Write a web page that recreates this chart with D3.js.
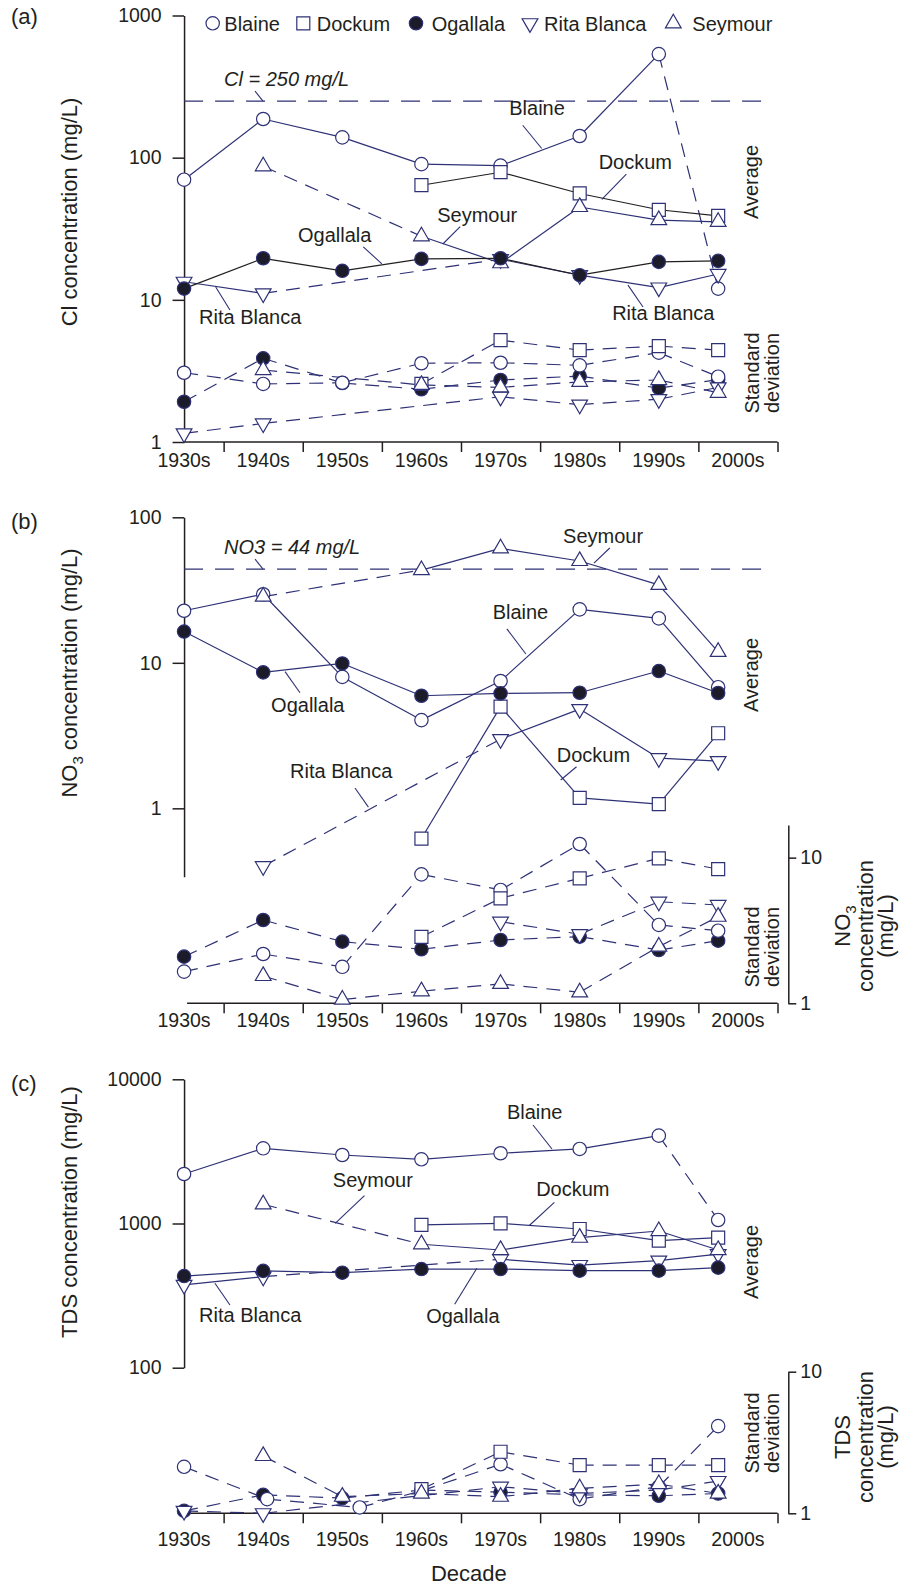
<!DOCTYPE html>
<html>
<head>
<meta charset="utf-8">
<script src="https://cdn.jsdelivr.net/npm/d3@7"></script>
<style>
  body { margin: 0; background: #fff; }
  svg { display: block; }
  text { font-family: "Liberation Sans", Arial, Helvetica, sans-serif; fill: #231f20; }
</style>
</head>
<body>
<svg id="chart" width="902" height="1589"></svg>
<script>
// ---- categories ----
const decades = ["1930s", "1940s", "1950s", "1960s", "1970s", "1980s", "1990s", "2000s"];
const decadeYears = [1935, 1945, 1955, 1965, 1975, 1985, 1995, 2002.5];
const decadeLabelYears = [1935, 1945, 1955, 1965, 1975, 1985, 1995, 2005];
const boundaryYears = [1940, 1950, 1960, 1970, 1980, 1990, 2000, 2010];
const aquifers = ["Blaine", "Dockum", "Ogallala", "Rita Blanca", "Seymour"];

// ---- (a) chloride, mg/L ----
const clAvgBlaine     = [70, 187, 139, 90, 88, 142, 535, 12];
const clAvgDockum     = [null, null, null, 64, 79, 56, 43, 39];
const clAvgOgallala   = [12, 19.6, 16, 19.4, 19.6, 14.9, 18.5, 18.8];
const clAvgRitaBlanca = [13.4, 11.1, null, null, 19.3, 14.9, 12.2, 15.2];
const clAvgSeymour    = [null, 87, null, 28, 18.1, 45, 36.4, 35.4];
const clStdBlaine     = [3.07, 2.56, 2.61, 3.58, 3.61, 3.46, 4.25, 2.88];
const clStdDockum     = [null, null, null, 2.56, 5.21, 4.43, 4.73, 4.43];
const clStdOgallala   = [1.92, 3.88, 2.6, 2.35, 2.73, 2.91, 2.39, 2.75];
const clStdRitaBlanca = [1.15, 1.35, null, null, 2.08, 1.83, 2.0, 2.42];
const clStdSeymour    = [null, 3.21, null, 2.52, 2.42, 2.65, 2.73, 2.22];
const clTicks = [1, 10, 100, 1000];
const clLimit = 250;

// ---- (b) nitrate, mg/L ----
const no3AvgBlaine     = [22.8, 29.6, 8.0, 4.04, 7.5, 23.3, 20.2, 6.8];
const no3AvgDockum     = [null, null, null, 0.62, 5.0, 1.18, 1.07, 3.28];
const no3AvgOgallala   = [16.4, 8.6, 9.9, 5.94, 6.17, 6.23, 8.78, 6.2];
const no3AvgRitaBlanca = [null, 0.40, null, null, 2.99, 4.81, 2.21, 2.11];
const no3AvgSeymour    = [null, 28.5, null, 43.4, 61.2, 50.1, 34.3, 11.9];
const no3StdBlaine     = [1.65, 2.18, 1.78, 7.68, 6.0, 12.4, 3.45, 3.15];
const no3StdDockum     = [null, null, null, 2.86, 5.26, 7.21, 9.89, 8.35];
const no3StdOgallala   = [2.09, 3.73, 2.65, 2.35, 2.72, 2.87, 2.32, 2.69];
const no3StdRitaBlanca = [null, null, null, null, 3.63, 2.98, 4.98, 4.73];
const no3StdSeymour    = [null, 1.54, 1.06, 1.21, 1.36, 1.19, 2.45, 3.93];
const no3Ticks = [1, 10, 100];
const no3StdTicks = [1, 10];
const no3Limit = 44;

// ---- (c) total dissolved solids, mg/L ----
const tdsAvgBlaine     = [2205, 3322, 2985, 2788, 3069, 3288, 4066, 1058];
const tdsAvgDockum     = [null, null, null, 977, 1003, 916, 760, 797];
const tdsAvgOgallala   = [432, 469, 456, 483, 483, 471, 471, 494];
const tdsAvgRitaBlanca = [375, 428, null, null, 565, 515, 552, 614];
const tdsAvgSeymour    = [null, 1359, null, 718, 655, 797, 887, 655];
const tdsStdBlaine     = [2.13, 1.26, 1.10, 1.44, 2.22, 1.26, 1.54, 4.13];
const tdsStdBlaineYears = [1935, 1945.5, 1957.2, 1965, 1975, 1985, 1995, 2002.5];
const tdsStdDockum     = [null, null, null, 1.48, 2.72, 2.19, 2.19, 2.19];
const tdsStdOgallala   = [1.04, 1.35, 1.28, 1.46, 1.41, 1.35, 1.33, 1.38];
const tdsStdRitaBlanca = [1.04, 1.0, null, null, 1.54, 1.38, 1.46, 1.69];
const tdsStdSeymour    = [null, 2.54, 1.31, 1.38, 1.31, 1.5, 1.61, 1.38];
const tdsTicks = [100, 1000, 10000];
const tdsStdTicks = [1, 10];

// ---- styling ----
const navy = "#2e3175", ink = "#231f20", solidFill = "#1c1b29";
const svg = d3.select("#chart");
const x = d3.scaleLinear().domain([1930, 2010]).range([144.5, 777.5]);

const symbols = {
  "Blaine":      { type: d3.symbolCircle,   size: 141, fill: "#fff",    rotate: 0 },
  "Dockum":      { type: d3.symbolSquare,   size: 169, fill: "#fff",    rotate: 0 },
  "Ogallala":    { type: d3.symbolCircle,   size: 141, fill: solidFill, rotate: 0 },
  "Rita Blanca": { type: d3.symbolTriangle, size: 107, fill: "#fff",    rotate: 180 },
  "Seymour":     { type: d3.symbolTriangle, size: 107, fill: "#fff",    rotate: 0 }
};

function drawMarker(g, name, px, py) {
  const s = symbols[name];
  g.append("path")
    .attr("d", d3.symbol(s.type, s.size)())
    .attr("transform", `translate(${px},${py})` + (s.rotate ? ` rotate(${s.rotate})` : ""))
    .attr("fill", s.fill)
    .attr("stroke", navy)
    .attr("stroke-width", 1.2);
}

function styleAxis(sel, fontSize) {
  sel.attr("color", ink);
  sel.selectAll("path, line").attr("stroke-width", 1.5);
  sel.selectAll("text").attr("font-size", fontSize)
    .attr("font-family", '"Liberation Sans", Arial, sans-serif');
}

function rotatedText(g, str, bx, cy, size) {
  return g.append("text")
    .attr("transform", `translate(${bx},${cy}) rotate(-90)`)
    .attr("text-anchor", "middle")
    .attr("font-size", size)
    .text(str);
}

// ---- panels ----
const panels = [
  {
    tag: "(a)", tagY: 24,
    avg: { "Blaine": clAvgBlaine, "Dockum": clAvgDockum, "Ogallala": clAvgOgallala, "Rita Blanca": clAvgRitaBlanca, "Seymour": clAvgSeymour },
    std: { "Blaine": clStdBlaine, "Dockum": clStdDockum, "Ogallala": clStdOgallala, "Rita Blanca": clStdRitaBlanca, "Seymour": clStdSeymour },
    stdYears: {},
    yAvg: d3.scaleLog().domain([1, 1000]).range([442, 15.5]),
    yStd: null,
    leftTicks: clTicks, rightTicks: null,
    axisY: 442, labelDrop: 25, xStart: 0,
    limit: { value: clLimit, label: "Cl = 250 mg/L" },
    title: "Cl concentration (mg/L)", titleY: 212,
    averageY: 182, stdY: 373,
    darkLines: ["Dockum", "Ogallala"],
    dashedAvg: [["Blaine", "1990s"]],
    notes: [
      { text: "Blaine",      at: [1976.1, 199],  from: [1977.8, 169],  to: [1980.2, 116] },
      { text: "Dockum",      at: [1987.4, 82.8], from: [1990.9, 76.7], to: [1987.8, 50.9] },
      { text: "Seymour",     at: [1967.0, 35.4], from: [1969.9, 32.7], to: [1967.7, 24.7] },
      { text: "Ogallala",    at: [1949.4, 25.6], from: [1957.65, 23.6], to: [1960.0, 17.9] },
      { text: "Rita Blanca", at: [1936.9, 6.76], from: [1940.8, 8.48], to: [1939.0, 12.3] },
      { text: "Rita Blanca", at: [1989.1, 7.21], from: [1993.0, 8.9],  to: [1991.1, 12.7] }
    ]
  },
  {
    tag: "(b)", tagY: 529,
    avg: { "Blaine": no3AvgBlaine, "Dockum": no3AvgDockum, "Ogallala": no3AvgOgallala, "Rita Blanca": no3AvgRitaBlanca, "Seymour": no3AvgSeymour },
    std: { "Blaine": no3StdBlaine, "Dockum": no3StdDockum, "Ogallala": no3StdOgallala, "Rita Blanca": no3StdRitaBlanca, "Seymour": no3StdSeymour },
    stdYears: {},
    yAvg: d3.scaleLog().domain([0.339, 100]).range([876.7, 517.3]),
    yStd: d3.scaleLog().domain([1, 16.75]).range([1003.3, 825]),
    leftTicks: no3Ticks, rightTicks: no3StdTicks,
    axisY: 1003.3, labelDrop: 23.4, xStart: 3,
    limit: { value: no3Limit, label: "NO3 = 44 mg/L" },
    title: ["NO", "3", " concentration (mg/L)"], titleY: 673,
    rightTitle: ["NO", "3"], rightTitleY: 926,
    averageY: 675, stdY: 947,
    darkLines: [],
    dashedAvg: [],
    notes: [
      { text: "Seymour",     at: [1982.9, 66.9], from: [1988.8, 61.5],  to: [1986.8, 48.5] },
      { text: "Blaine",      at: [1974.0, 20.0], from: [1975.8, 17.1],  to: [1978.2, 11.5] },
      { text: "Ogallala",    at: [1946.0, 4.61], from: [1949.65, 6.23], to: [1947.76, 8.69] },
      { text: "Rita Blanca", at: [1948.4, 1.615], from: [1956.6, 1.379], to: [1958.3, 1.02] },
      { text: "Dockum",      at: [1982.1, 2.09], from: [1984.6, 1.93],  to: [1982.6, 1.565] }
    ]
  },
  {
    tag: "(c)", tagY: 1091,
    avg: { "Blaine": tdsAvgBlaine, "Dockum": tdsAvgDockum, "Ogallala": tdsAvgOgallala, "Rita Blanca": tdsAvgRitaBlanca, "Seymour": tdsAvgSeymour },
    std: { "Blaine": tdsStdBlaine, "Dockum": tdsStdDockum, "Ogallala": tdsStdOgallala, "Rita Blanca": tdsStdRitaBlanca, "Seymour": tdsStdSeymour },
    stdYears: { "Blaine": tdsStdBlaineYears },
    yAvg: d3.scaleLog().domain([100, 10000]).range([1367.7, 1079.3]),
    yStd: d3.scaleLog().domain([1, 10]).range([1513.3, 1371.7]),
    leftTicks: tdsTicks, rightTicks: tdsStdTicks,
    axisY: 1513.3, labelDrop: 32.7, xStart: 3,
    limit: null,
    title: "TDS concentration (mg/L)", titleY: 1212,
    rightTitle: ["TDS"], rightTitleY: 1437,
    averageY: 1262, stdY: 1433,
    darkLines: [],
    dashedAvg: [["Blaine", "1990s"]],
    notes: [
      { text: "Blaine",      at: [1975.8, 5305], from: [1979.1, 4821], to: [1981.5, 3286] },
      { text: "Seymour",     at: [1953.8, 1800], from: [1957.8, 1559], to: [1954.1, 1003] },
      { text: "Dockum",      at: [1979.5, 1559], from: [1981.8, 1403], to: [1978.6, 965] },
      { text: "Rita Blanca", at: [1936.9, 208.5], from: [1940.8, 272], to: [1938.9, 385] },
      { text: "Ogallala",    at: [1965.6, 204],  from: [1969.2, 275.6], to: [1972.0, 489] }
    ]
  }
];

function pointsOf(values, years) {
  return values.map((v, i) => ({ v, i, yr: years[i] })).filter(d => d.v != null);
}

function drawPanel(p) {
  const g = svg.append("g");
  const yStd = p.yStd || p.yAvg;
  const axisX = x(decadeYears[0]);

  // left axis
  const la = g.append("g").attr("transform", `translate(${axisX},0)`)
    .call(d3.axisLeft(p.yAvg).tickValues(p.leftTicks).tickFormat(d3.format("d"))
      .tickSize(11.5).tickPadding(11).tickSizeOuter(0));
  styleAxis(la, 19.5);

  // right axis for standard deviations
  if (p.yStd) {
    const ra = g.append("g").attr("transform", `translate(${x(2010) + 10.8},0)`)
      .call(d3.axisRight(p.yStd).tickValues(p.rightTicks).tickFormat(d3.format("d"))
        .tickSize(8).tickPadding(4).tickSizeOuter(0));
    styleAxis(ra, 19.5);
  }

  // bottom axis
  const xa = g.append("g").attr("transform", `translate(0,${p.axisY})`)
    .call(d3.axisBottom(x).tickValues(boundaryYears).tickFormat(() => "").tickSize(10).tickSizeOuter(0));
  xa.select(".domain").remove();
  xa.append("line").attr("x1", axisX + p.xStart).attr("x2", x(2010)).attr("y1", 0).attr("y2", 0)
    .attr("stroke", ink);
  styleAxis(xa, 19.5);
  g.append("g").selectAll("text").data(decades).join("text")
    .attr("x", (d, i) => x(decadeLabelYears[i]))
    .attr("y", p.axisY + p.labelDrop)
    .attr("text-anchor", "middle").attr("font-size", 19.5)
    .text(d => d);

  // regulatory limit
  if (p.limit) {
    const ly = p.yAvg(p.limit.value);
    g.append("line").attr("x1", axisX).attr("x2", x(2009.4)).attr("y1", ly).attr("y2", ly)
      .attr("stroke", navy).attr("stroke-width", 1.2).attr("stroke-dasharray", "19,12");
    g.append("text").attr("x", x(1940.05)).attr("y", ly - 15.5)
      .attr("font-size", 20).attr("font-style", "italic").text(p.limit.label);
    g.append("line").attr("x1", x(1943.97)).attr("y1", ly - 10).attr("x2", x(1944.98)).attr("y2", ly)
      .attr("stroke", navy).attr("stroke-width", 1.1);
  }

  const lines = g.append("g").attr("fill", "none");
  const marks = g.append("g");
  const lineAvg = d3.line().x(d => x(d.yr)).y(d => p.yAvg(d.v));
  const lineStd = d3.line().x(d => x(d.yr)).y(d => yStd(d.v));

  // standard deviation series (all dashed)
  const stdOrder = ["Ogallala", "Blaine", "Dockum", "Rita Blanca", "Seymour"];
  const stdPts = {};
  stdOrder.forEach(name => {
    const pts = pointsOf(p.std[name], p.stdYears[name] || decadeYears);
    stdPts[name] = pts;
    d3.pairs(pts).forEach(seg => {
      lines.append("path").attr("d", lineStd(seg))
        .attr("stroke", navy).attr("stroke-width", 1.2).attr("stroke-dasharray", "14,9");
    });
  });

  // average series: dashed across missing decades and where flagged
  const avgOrder = ["Blaine", "Dockum", "Rita Blanca", "Seymour", "Ogallala"];
  const avgPts = {};
  avgOrder.forEach(name => {
    const pts = pointsOf(p.avg[name], decadeYears);
    avgPts[name] = pts;
    const color = p.darkLines.includes(name) ? ink : navy;
    d3.pairs(pts).forEach(([a, b]) => {
      const dashed = (b.i - a.i > 1) || p.dashedAvg.some(([s, dec]) => s === name && dec === decades[a.i]);
      lines.append("path").attr("d", lineAvg([a, b]))
        .attr("stroke", color).attr("stroke-width", 1.2)
        .attr("stroke-dasharray", dashed ? "14,9" : null);
    });
  });

  stdOrder.forEach(name => stdPts[name].forEach(d => drawMarker(marks, name, x(d.yr), yStd(d.v))));
  avgOrder.forEach(name => avgPts[name].forEach(d => drawMarker(marks, name, x(d.yr), p.yAvg(d.v))));

  // series call-outs
  const notes = g.append("g");
  p.notes.forEach(n => {
    notes.append("text").attr("x", x(n.at[0])).attr("y", p.yAvg(n.at[1]))
      .attr("font-size", 20).text(n.text);
    notes.append("path").attr("d", lineAvg([{ yr: n.from[0], v: n.from[1] }, { yr: n.to[0], v: n.to[1] }]))
      .attr("stroke", navy).attr("stroke-width", 1.1).attr("fill", "none");
  });

  // panel tag
  g.append("text").attr("x", 11).attr("y", p.tagY).attr("font-size", 22).text(p.tag);

  // left title
  if (Array.isArray(p.title)) {
    const t = g.append("text")
      .attr("transform", `translate(77,${p.titleY}) rotate(-90)`)
      .attr("text-anchor", "middle").attr("font-size", 22);
    t.append("tspan").text(p.title[0]);
    t.append("tspan").attr("dy", 6).attr("font-size", 15).text(p.title[1]);
    t.append("tspan").attr("dy", -6).text(p.title[2]);
  } else {
    rotatedText(g, p.title, 77, p.titleY, 22);
  }

  // right-side labels
  rotatedText(g, "Average", 758, p.averageY, 20);
  rotatedText(g, "Standard", 759, p.stdY, 20);
  rotatedText(g, "deviation", 779, p.stdY, 20);

  if (p.rightTitle) {
    const t = g.append("text")
      .attr("transform", `translate(850,${p.rightTitleY}) rotate(-90)`)
      .attr("text-anchor", "middle").attr("font-size", 22);
    t.append("tspan").text(p.rightTitle[0]);
    if (p.rightTitle[1]) t.append("tspan").attr("dy", 6).attr("font-size", 15).text(p.rightTitle[1]);
    rotatedText(g, "concentration", 873, p.rightTitleY, 22);
    rotatedText(g, "(mg/L)", 893, p.rightTitleY, 22);
  }
}

panels.forEach(drawPanel);

// x-axis title
svg.append("text").attr("x", x(1971)).attr("y", 1581).attr("text-anchor", "middle")
  .attr("font-size", 22).text("Decade");

// legend
const legendMarkX = [212.7, 303.3, 416, 530, 673.3];
const legendTextX = [224.3, 316.7, 431.7, 544, 692.3];
const legend = svg.append("g");
aquifers.forEach((name, i) => {
  drawMarker(legend, name, legendMarkX[i], 23.3);
  legend.append("text").attr("x", legendTextX[i]).attr("y", 30.5).attr("font-size", 20).text(name);
});
</script>
</body>
</html>
